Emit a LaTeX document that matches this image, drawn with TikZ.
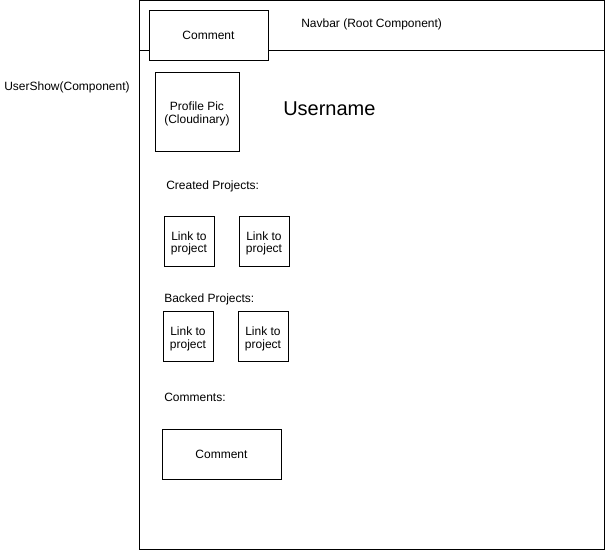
\documentclass[tikz,border=0pt]{standalone}
\usepackage{fontspec}
\setmainfont{Liberation Sans}
\newcommand{\twoline}[2]{\begin{tabular}{@{}c@{}}\rule{0pt}{11.5pt}#1\\[-1pt]#2\end{tabular}}
\begin{document}
\begin{tikzpicture}[x=0.75pt,y=-0.75pt,
  box/.style={draw=black,fill=white,line width=0.75pt,inner sep=0pt,align=center,font=\fontsize{9}{10.5}\selectfont},
  lbl/.style={inner sep=0pt,font=\fontsize{9}{10.5}\selectfont,anchor=west}]
\useasboundingbox (0,0) rectangle (605,550);
% outer frame
\draw[line width=0.75pt] (139.5,0.5) rectangle (604.5,549.5);
\coordinate (navL) at (139.5,50.5);
\coordinate (navR) at (604.5,50.5);
\draw[line width=0.75pt] (navL) -- (navR);
\node[box,minimum width=89.25pt,minimum height=37.5pt] (navcomment) at (208.5,35.5) {Comment};
\node[lbl] (navbar) at (301,24) {Navbar (Root Component)};
\node[lbl] (usershow) at (4,87) {UserShow(Component)};
\node[box,minimum width=63pt,minimum height=59.25pt] (pic) at (197,111.5) {\twoline{Profile Pic}{(Cloudinary)}};
\node[inner sep=0pt,anchor=west,font=\fontsize{15}{18}\selectfont] (username) at (283,109) {Username};
\node[lbl] (created) at (166,186) {Created Projects:};
\node[box,minimum width=37.5pt,minimum height=37.5pt] (c1) at (189,241) {\twoline{Link to}{project}};
\node[box,minimum width=37.5pt,minimum height=37.5pt] (c2) at (264,241) {\twoline{Link to}{project}};
\node[lbl] (backed) at (164,299) {Backed Projects:};
\node[box,minimum width=37.5pt,minimum height=37.5pt] (b1) at (188,336.5) {\twoline{Link to}{project}};
\node[box,minimum width=37.5pt,minimum height=37.5pt] (b2) at (263,336.5) {\twoline{Link to}{project}};
\node[lbl] (comments) at (164,397) {Comments:};
\node[box,minimum width=89.25pt,minimum height=37.5pt] (comment) at (221.5,454) {Comment};
\end{tikzpicture}
\end{document}
